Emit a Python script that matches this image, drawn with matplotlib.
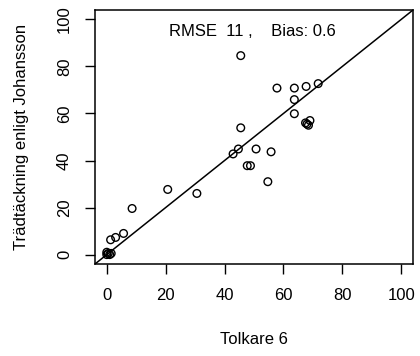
import matplotlib
matplotlib.use("Agg")
import matplotlib.pyplot as plt

plt.rcParams['font.family'] = ['Liberation Sans', 'DejaVu Sans']

# Data
tolkare6 = [45.5, 57.8, 63.7, 67.7, 71.8, 63.7, 63.7, 67.5, 68.5, 69.0, 68.0,
            45.5, 44.7, 42.9, 50.7, 55.8, 47.7, 48.8, 54.7, 20.7, 30.6,
            8.6, 5.7, 1.3, 3.0, 0.0, 1.0, 0.5, 1.5, 0.0]
johansson = [84.6, 70.8, 70.8, 71.5, 72.7, 65.9, 59.9, 56.0, 55.0, 57.0, 55.5,
             53.9, 44.9, 42.8, 44.9, 43.7, 37.8, 37.8, 31.0, 27.7, 26.0,
             19.6, 9.0, 6.3, 7.3, 0.0, 0.0, 0.5, 0.5, 1.0]
ticks = [0, 20, 40, 60, 80, 100]
annotation = "RMSE  11 ,    Bias: 0.6"
xlabel = "Tolkare 6"
ylabel = "Trädtäckning enligt Johansson"

fig = plt.figure(figsize=(4.2, 3.56), dpi=100)
ax = fig.add_axes([95/420, 1 - 264/356, (413-95)/420, (264-10)/356])

ax.scatter(tolkare6, johansson, s=5.5**2, facecolors='none', edgecolors='black',
           linewidths=1.0, zorder=3)
ax.plot([-4, 104], [-4, 104], color='black', linewidth=1.1, zorder=2)

ax.set_xlim(-4, 104)
ax.set_ylim(-4, 104)
ax.set_xticks(ticks)
ax.set_yticks(ticks)
ax.set_xticklabels([str(t) for t in ticks])
ax.set_yticklabels([str(t) for t in ticks], rotation=90, va='center')
ax.tick_params(direction='out', length=7.5, width=1, labelsize=12, pad=10, colors='black')
ax.tick_params(axis='y', pad=9)
for s in ax.spines.values():
    s.set_linewidth(1.1)

ax.text(49.5, 95, annotation, ha='center', va='center', fontsize=12)
ax.set_xlabel(xlabel, fontsize=12, labelpad=21)
ax.set_ylabel(ylabel, fontsize=12, labelpad=20)

fig.savefig("out.png", dpi=100)
